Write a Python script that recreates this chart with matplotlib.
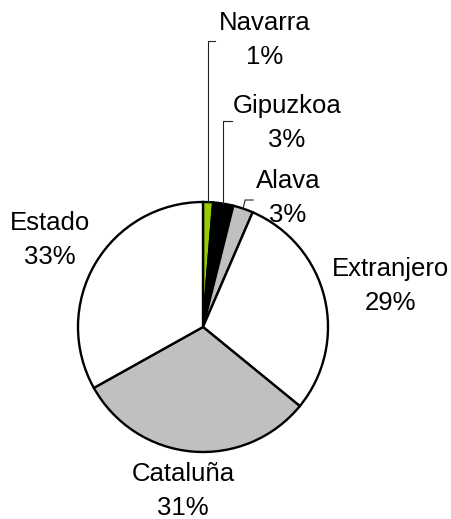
import numpy as np
from matplotlib import pyplot as plt

plt.rcParams['font.family'] = ['Liberation Sans', 'DejaVu Sans']

names = ['Navarra', 'Gipuzkoa', 'Alava', 'Extranjero', 'Cataluña', 'Estado']
values = [1.3, 2.6, 2.6, 29.4, 31.0, 33.1]
pct_labels = ['1%', '3%', '3%', '29%', '31%', '33%']
colors = ['#99CC00', '#000000', '#C0C0C0', '#FFFFFF', '#C0C0C0', '#FFFFFF']

# layout in pixel units (y measured from the top of the image)
W, H = 451, 519
cx, cy, R = 203, 327, 125
label_pos = [(265, 40), (287, 123), (288, 198), (390, 286), (183, 491), (50, 240)]
leaders = {0: (41, 7), 1: (121, 9), 2: (200, 8)}   # elbow y, tick length

fig = plt.figure(figsize=(W/100, H/100), dpi=100)
ax = fig.add_axes([0, 0, 1, 1])

wedges, _ = ax.pie(values, colors=colors, startangle=90, counterclock=False,
                   center=(cx, H - cy), radius=R, frame=True,
                   wedgeprops=dict(edgecolor='black', linewidth=1.7))
ax.set_xlim(0, W)
ax.set_ylim(0, H)
ax.axis('off')

for i, w in enumerate(wedges):
    x, y = label_pos[i]
    ax.text(x, H - y, names[i] + '\n' + pct_labels[i], ha='center', va='center',
            multialignment='center', fontsize=18.5, linespacing=1.5, zorder=5)
    if i in leaders:
        mid = np.deg2rad((w.theta1 + w.theta2) / 2)
        ax_x = cx + R * np.cos(mid)
        ax_y = (H - cy) + R * np.sin(mid)
        ey, tick = leaders[i]
        ex = ax_x + (2 if i == 2 else 0)
        ax.plot([ax_x, ex, ex + tick], [ax_y, H - ey, H - ey],
                color='#222222', lw=0.8, zorder=1)

fig.savefig('out.png', dpi=100)
